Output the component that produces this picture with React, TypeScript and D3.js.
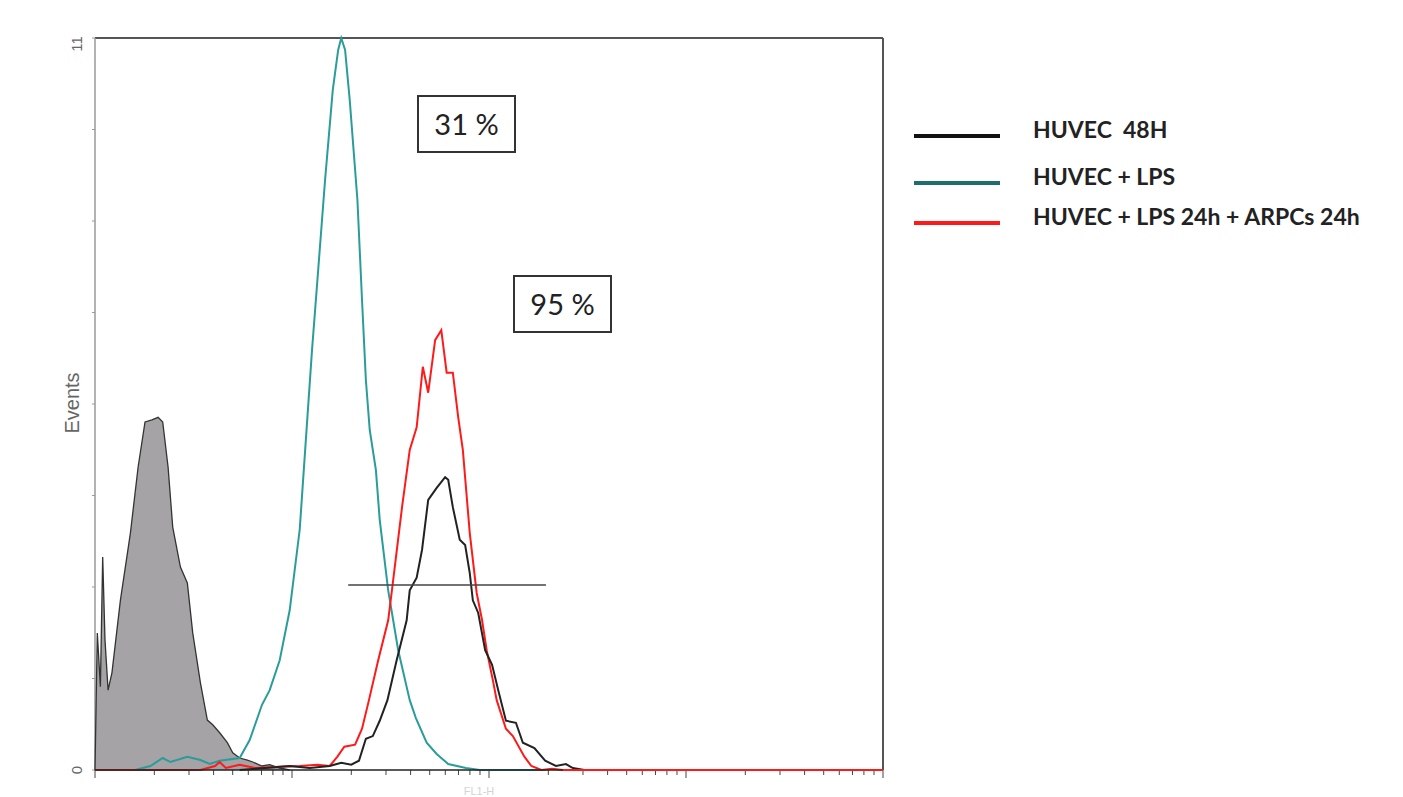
import React from "react";
import * as d3 from "d3";

// histogram curves, [channel (0-1024, 4-decade log), events]
const isotype = [
  [0, 0], [3, 2.06], [7, 1.25], [10, 3.2], [13, 1.95], [17, 1.2], [22, 1.46], [33, 2.55],
  [46, 3.56], [56, 4.55], [65, 5.23], [74, 5.26], [82, 5.3], [88, 5.23], [95, 4.55],
  [101, 3.65], [111, 3.05], [120, 2.81], [127, 2.06], [137, 1.31], [146, 0.75], [153, 0.68],
  [162, 0.56], [172, 0.41], [179, 0.26], [188, 0.18], [198, 0.15], [205, 0.12], [217, 0.06],
  [227, 0.08], [240, 0.03], [253, 0],
];

const huvec48h = [
  [188, 0], [221, 0.03], [253, 0.06], [279, 0.03], [305, 0.06], [320, 0.11], [333, 0.08],
  [343, 0.14], [352, 0.47], [361, 0.51], [370, 0.74], [380, 1.05], [392, 1.65], [405, 2.25],
  [409, 2.7], [418, 2.89], [425, 3.31], [433, 4.06], [444, 4.24], [455, 4.4], [459, 4.36],
  [465, 3.95], [474, 3.46], [481, 3.38], [487, 2.96], [491, 2.55], [498, 2.36], [507, 1.8],
  [516, 1.58], [524, 1.2], [534, 0.74], [547, 0.71], [556, 0.41], [571, 0.33], [585, 0.14],
  [599, 0.06], [612, 0.09], [621, 0.03], [636, 0], [652, 0],
];

const huvecLps = [
  [52, 0], [72, 0.06], [88, 0.18], [98, 0.12], [120, 0.2], [137, 0.15], [149, 0.09],
  [162, 0.14], [188, 0.18], [201, 0.45], [217, 0.98], [227, 1.2], [240, 1.65], [253, 2.4],
  [266, 3.61], [274, 4.96], [282, 6.31], [290, 7.51], [299, 8.87], [309, 10.22], [316, 10.82],
  [320, 11], [325, 10.82], [331, 10.07], [341, 8.57], [347, 7.06], [352, 5.86], [357, 5.11],
  [365, 4.51], [370, 3.76], [381, 2.7], [394, 1.8], [409, 1.05], [417, 0.78], [431, 0.41],
  [444, 0.24], [459, 0.09], [482, 0.03], [500, 0], [585, 0],
];

const huvecLpsArpc = [
  [0, 0], [137, 0], [156, 0.06], [162, 0.12], [170, 0.03], [188, 0.08], [208, 0.03],
  [240, 0.05], [266, 0.06], [289, 0.08], [305, 0.06], [315, 0.2], [324, 0.35], [338, 0.38],
  [347, 0.62], [356, 1.05], [368, 1.65], [381, 2.25], [387, 2.81], [399, 3.95], [409, 4.81],
  [418, 5.15], [426, 6.06], [433, 5.67], [442, 6.46], [450, 6.61], [457, 5.97], [465, 5.97],
  [472, 5.3], [478, 4.81], [487, 3.56], [496, 2.66], [503, 2.25], [509, 1.8], [517, 1.35],
  [522, 1.05], [534, 0.62], [543, 0.51], [558, 0.2], [567, 0.06], [580, 0], [594, 0.02],
  [608, 0], [1024, 0],
];

const legendLabels = ["HUVEC  48H", "HUVEC + LPS", "HUVEC + LPS 24h + ARPCs 24h"];
const legendColors = ["#111111", "#1d6e6c", "#ff1a1a"];
const percentLabels = ["31 %", "95 %"];

const gateFrom = 329;
const gateTo = 586;
const gateLevel = 2.78;

const App = () => {
  const width = 1403;
  const height = 797;
  const margin = { top: 38, right: 520, bottom: 27, left: 95 };
  const innerWidth = width - margin.left - margin.right;
  const innerHeight = height - margin.top - margin.bottom;

  const xScale = d3.scaleLinear().domain([0, 1024]).range([0, innerWidth]);
  const xLog = d3.scaleLog().domain([1, 10000]).range([0, innerWidth]);
  const yScale = d3.scaleLinear().domain([0, 11]).range([innerHeight, 0]);

  const line = d3
    .line<number[]>()
    .x((d) => xScale(d[0]))
    .y((d) => yScale(d[1]));
  const area = d3
    .area<number[]>()
    .x((d) => xScale(d[0]))
    .y0(yScale(0))
    .y1((d) => yScale(d[1]));

  const yTicks = d3.range(0, 9).map((k) => (k * 11) / 8);
  const xTicks = xLog.ticks();
  const isMajor = (v: number) => Math.abs(Math.log10(v) - Math.round(Math.log10(v))) < 1e-9;

  return (
    <svg
      width={width}
      height={height}
      style={{ position: "absolute", left: 0, top: 0, background: "#fff" }}
    >
      <g transform={`translate(${margin.left},${margin.top})`}>
        {/* frame */}
        <line x1={0} y1={0} x2={innerWidth} y2={0} stroke="#555" strokeWidth={2} />
        <line x1={innerWidth} y1={0} x2={innerWidth} y2={innerHeight} stroke="#555" strokeWidth={2} />
        <line x1={0} y1={0} x2={0} y2={innerHeight} stroke="#999" strokeWidth={1.5} />

        {yTicks.map((t) => (
          <line key={t} x1={-3} x2={0} y1={yScale(t)} y2={yScale(t)} stroke="#999" />
        ))}
        <text
          transform={`translate(-13,${yScale(11) + 6}) rotate(-90)`}
          textAnchor="middle"
          fontFamily="Liberation Sans, Arial, sans-serif"
          fontSize={15}
          fill="#666"
        >
          11
        </text>
        <text
          transform={`translate(-13,${yScale(0)}) rotate(-90)`}
          textAnchor="middle"
          fontFamily="Liberation Sans, Arial, sans-serif"
          fontSize={15}
          fill="#666"
        >
          0
        </text>
        <text
          transform={`translate(-16,${innerHeight / 2 - 1}) rotate(-90)`}
          textAnchor="middle"
          fontFamily="Liberation Sans, Arial, sans-serif"
          fontSize={20}
          fill="#666"
        >
          Events
        </text>

        {/* x axis */}
        {xTicks.map((t, i) => (
          <line
            key={i}
            x1={xLog(t)}
            x2={xLog(t)}
            y1={innerHeight}
            y2={innerHeight + (isMajor(t) ? 8 : 5)}
            stroke="#444"
          />
        ))}
        <text
          x={innerWidth / 2 - 10}
          y={innerHeight + 25}
          textAnchor="middle"
          fontFamily="Liberation Sans, Arial, sans-serif"
          fontSize={11}
          fill="#d4d4d4"
        >
          FL1-H
        </text>

        {/* histograms */}
        <path d={area(isotype) ?? ""} fill="#a5a3a5" stroke="none" />
        <path d={line(isotype) ?? ""} fill="none" stroke="#333" strokeWidth={1.3} />
        <path d={line(huvecLps) ?? ""} fill="none" stroke="#2a9c9a" strokeWidth={2} />
        <path d={line(huvecLpsArpc) ?? ""} fill="none" stroke="#ff1a1a" strokeWidth={2} />
        <path d={line(huvec48h) ?? ""} fill="none" stroke="#222" strokeWidth={2} />
        <line x1={0} x2={innerWidth} y1={innerHeight} y2={innerHeight} stroke="#222" strokeWidth={1.5} />
        <path
          d={line(huvecLpsArpc.filter((d) => d[0] >= 600)) ?? ""}
          fill="none"
          stroke="#ff1a1a"
          strokeWidth={2}
        />

        {/* gate */}
        <line
          x1={xScale(gateFrom)}
          x2={xScale(gateTo)}
          y1={yScale(gateLevel)}
          y2={yScale(gateLevel)}
          stroke="#444"
          strokeWidth={1.3}
        />
      </g>

      {/* percentage boxes */}
      {percentLabels.map((p, i) => {
        const bx = i === 0 ? 418 : 514;
        const by = i === 0 ? 96 : 276;
        return (
          <g key={p} transform={`translate(${bx},${by})`}>
            <rect width={97} height={56} fill="#fff" stroke="#333" strokeWidth={2} />
            <text
              x={48.5}
              y={39}
              textAnchor="middle"
              fontFamily="Lato, Open Sans, sans-serif"
              fontSize={29}
              fill="#222"
            >
              {p}
            </text>
          </g>
        );
      })}

      {/* legend */}
      {legendLabels.map((label, i) => {
        const ly = [136, 183, 223][i];
        return (
          <g key={label}>
            <line x1={914} x2={1000} y1={ly} y2={ly} stroke={legendColors[i]} strokeWidth={4} />
            <text
              x={1033}
              y={ly + 2}
              fontFamily="Lato, Open Sans, sans-serif"
              fontWeight="bold"
              fontSize={23}
              fill="#222"
              style={{ whiteSpace: "pre" }}
            >
              {label}
            </text>
          </g>
        );
      })}
    </svg>
  );
};

export default App;
